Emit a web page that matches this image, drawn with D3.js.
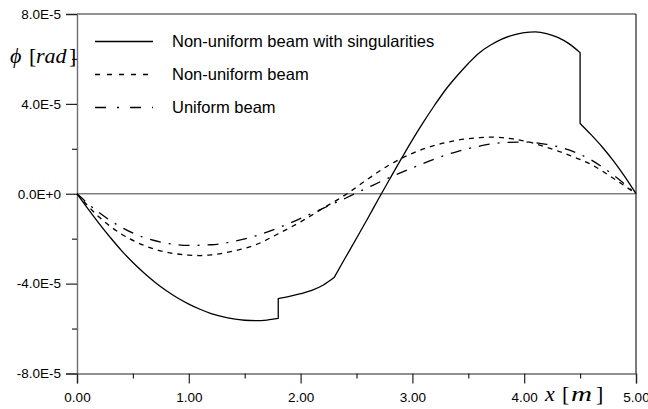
<!DOCTYPE html>
<html><head><meta charset="utf-8">
<script src="https://cdn.jsdelivr.net/npm/d3@7"></script>
<style>body{margin:0;background:#fff}</style>
</head><body>
<svg id="c" width="648" height="409"></svg>
<script>
// ---- data ----
const xTicks = [0, 1, 2, 3, 4, 5];
const xMinorTicks = [0.5, 1.5, 2.5, 3.5, 4.5];
const yTicks = [-8e-5, -4e-5, 0, 4e-5, 8e-5];
const yMinorTicks = [-6e-5, -2e-5, 2e-5, 6e-5];
const yTickLabels = ["-8.0E-5", "-4.0E-5", "0.0E+0", "4.0E-5", "8.0E-5"];
const seriesNames = ["Non-uniform beam with singularities", "Non-uniform beam", "Uniform beam"];

// solid: repeated x marks a jump / kink
const singX = [0,0.1,0.2,0.3,0.4,0.5,0.6,0.7,0.8,0.9,1.0,1.1,1.2,1.3,1.4,1.5,1.6,1.7,1.8,
               1.8,1.9,2.0,2.1,2.2,2.3,
               2.3,2.4,2.5,2.6,2.7,2.8,2.9,3.0,3.1,3.2,3.3,3.4,3.5,3.6,3.7,3.8,3.9,4.0,4.1,4.2,4.3,4.4,4.5,
               4.5,4.6,4.7,4.8,4.9,5.0];
const singY = [0,-0.68,-1.34,-1.96,-2.54,-3.06,-3.53,-3.95,-4.32,-4.64,-4.91,-5.14,-5.33,-5.47,-5.57,-5.63,-5.65,-5.62,-5.55,
               -4.67,-4.57,-4.45,-4.3,-4.07,-3.73,
               -3.73,-2.85,-1.98,-1.1,-0.2,0.68,1.55,2.4,3.2,3.95,4.65,5.25,5.8,6.28,6.62,6.88,7.06,7.17,7.2,7.13,6.96,6.68,6.28,
               3.13,2.62,2.07,1.45,0.76,0].map(v => v * 1e-5);

const nonUnifX = [0,0.2,0.4,0.6,0.8,1.0,1.1,1.2,1.4,1.6,1.8,2.0,2.2,2.4,2.6,2.8,3.0,3.2,3.4,3.6,3.7,3.8,4.0,4.2,4.4,4.6,4.8,5.0];
const nonUnifY = [0,-1.05,-1.8,-2.3,-2.6,-2.73,-2.75,-2.72,-2.55,-2.27,-1.78,-1.25,-0.65,-0.05,0.65,1.3,1.8,2.15,2.38,2.5,2.52,2.5,2.35,2.07,1.72,1.3,0.68,0].map(v => v * 1e-5);

const unifX = [0,0.2,0.4,0.6,0.8,1.0,1.2,1.4,1.6,1.8,2.0,2.2,2.4,2.6,2.8,3.0,3.2,3.4,3.6,3.8,4.0,4.2,4.4,4.6,4.8,5.0];
const unifY = [0,-0.85,-1.5,-1.95,-2.2,-2.3,-2.27,-2.12,-1.87,-1.52,-1.1,-0.65,-0.2,0.27,0.73,1.15,1.55,1.88,2.12,2.27,2.3,2.2,1.95,1.5,0.82,0].map(v => v * 1e-5);

// ---- chart ----
const svg = d3.select("#c");
const W = 648, H = 409;
svg.append("rect").attr("width", W).attr("height", H).attr("fill", "#fff");
const x = d3.scaleLinear().domain([0, 5]).range([77, 636]);
const y = d3.scaleLinear().domain([-8e-5, 8e-5]).range([373.5, 14]);
const axisCol = "#6e6e6e";

// left axis
svg.append("g").attr("transform", `translate(${x(0)},0)`)
  .call(d3.axisLeft(y).tickValues(yTicks).tickSize(11).tickPadding(5)
    .tickFormat((d, i) => yTickLabels[i]));
svg.append("g").attr("transform", `translate(${x(0)},0)`)
  .call(d3.axisLeft(y).tickValues(yMinorTicks).tickSize(5).tickFormat(""))
  .select(".domain").remove();

// bottom axis
svg.append("g").attr("transform", `translate(0,${y(-8e-5)})`)
  .call(d3.axisBottom(x).tickValues(xTicks).tickSize(10).tickPadding(9)
    .tickFormat(d3.format(".2f")));
svg.append("g").attr("transform", `translate(0,${y(-8e-5)})`)
  .call(d3.axisBottom(x).tickValues(xMinorTicks).tickSize(5).tickFormat(""))
  .select(".domain").remove();

svg.selectAll(".tick text").attr("font-family", "Liberation Sans, Arial, sans-serif")
  .attr("font-size", 13.5).attr("fill", "#000");
svg.selectAll(".tick line").attr("stroke", "#222").attr("stroke-width", 1.2);
svg.selectAll(".domain").attr("stroke", axisCol).attr("stroke-width", 1.4);

// top border, right border, zero line
svg.append("line").attr("x1", x(0)).attr("x2", x(5)).attr("y1", y(8e-5)).attr("y2", y(8e-5))
  .attr("stroke", axisCol).attr("stroke-width", 1.4);
svg.append("line").attr("x1", x(5)).attr("x2", x(5)).attr("y1", y(8e-5)).attr("y2", y(-8e-5))
  .attr("stroke", "#222").attr("stroke-width", 1.2);
svg.append("line").attr("x1", x(0)).attr("x2", x(5)).attr("y1", y(0)).attr("y2", y(0))
  .attr("stroke", "#808080").attr("stroke-width", 1.6);

// curves
const lineGen = d3.line().x(d => x(d[0])).y(d => y(d[1])).curve(d3.curveMonotoneX);
function segPath(xs, ys) {
  const segs = [];
  let cur = [];
  xs.forEach((xv, i) => {
    if (i > 0 && xv === xs[i - 1]) { segs.push(cur); cur = []; }
    cur.push([xv, ys[i]]);
  });
  segs.push(cur);
  return segs.map((s, k) => {
    const p = lineGen(s);
    return k === 0 ? p : "L" + p.slice(1);
  }).join("");
}
const styles = [
  { dash: null, xs: singX, ys: singY, legDash: null },
  { dash: "5,5", xs: nonUnifX, ys: nonUnifY, legDash: "5,7" },
  { dash: "11,8,2,8", xs: unifX, ys: unifY, legDash: "11,11,2,11" }
];
styles.forEach(s => {
  svg.append("path").attr("d", segPath(s.xs, s.ys)).attr("fill", "none")
    .attr("stroke", "#000").attr("stroke-width", 1.3)
    .attr("stroke-dasharray", s.dash);
});

// legend
const legY = [41.5, 74.5, 107.5];
seriesNames.forEach((n, i) => {
  svg.append("line").attr("x1", 95).attr("x2", 153).attr("y1", legY[i]).attr("y2", legY[i])
    .attr("stroke", "#000").attr("stroke-width", 1.3).attr("stroke-dasharray", styles[i].legDash);
  svg.append("text").attr("x", 172).attr("y", legY[i] + 5.5).text(n)
    .attr("font-family", "Liberation Sans, Arial, sans-serif").attr("font-size", 16.5).attr("fill", "#000");
});

// axis titles (pieces placed individually)
function title(parts, yBase) {
  const t = svg.append("text").attr("y", yBase)
    .attr("font-family", "Liberation Serif, Times New Roman, serif").attr("font-size", 22);
  parts.forEach(p => {
    const s = t.append("tspan").attr("x", p.x).text(p.t);
    if (p.it) s.attr("font-style", "italic");
    if (p.len) s.attr("textLength", p.len).attr("lengthAdjust", "spacingAndGlyphs");
  });
}
title([{ t: "\u03D5", x: 10, it: true }, { t: "[", x: 29 }, { t: "rad", x: 36, it: true }, { t: "]", x: 69 }], 63);
title([{ t: "x", x: 545, it: true }, { t: "[", x: 562 }, { t: "m", x: 571, it: true, len: 21 }, { t: "]", x: 596 }], 401);
</script>
</body></html>
